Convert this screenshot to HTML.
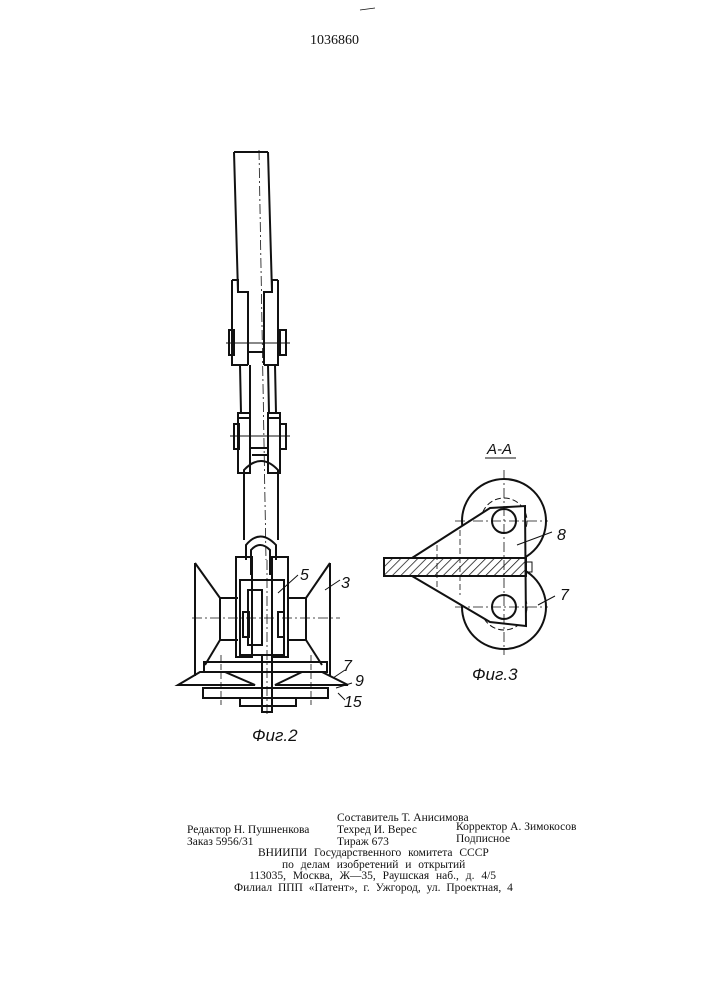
<!DOCTYPE html>
<html><head><meta charset="utf-8"><style>
body{margin:0;background:#fff;}
.t{position:absolute;font-family:"Liberation Serif","Noto Serif CJK SC",serif;font-size:11.5px;color:#111;white-space:nowrap;}
</style></head><body>
<div style="position:relative;width:707px;height:1000px;overflow:hidden">
<svg width="707" height="1000" style="position:absolute;left:0;top:0" fill="none" stroke="#111" stroke-width="2">
<defs><pattern id="h" width="6" height="6" patternUnits="userSpaceOnUse" patternTransform="rotate(45)"><line x1="0" y1="0" x2="0" y2="6" stroke="#111" stroke-width="1.5"/></pattern></defs>
<text x="310" y="44" font-family="Liberation Serif" font-size="14" fill="#111" stroke="none">1036860</text>
<line x1="360" y1="10" x2="375" y2="8" stroke-width="0.8"/>
<path d="M234 152 L238 292 M268 152 L272 292 M234 152 L268 152"/>
<path d="M232 280 L238 280 L238 292 L248 292 L248 365 M232 280 L232 365 L248 365 M278 280 L272 280 L272 292 L264 292 L264 365 M278 280 L278 365 L264 365"/>
<path d="M229 330 h5 v25 h-5z M280 330 h6 v25 h-6z"/>
<line x1="226" y1="343" x2="290" y2="343" stroke-width="1"/>
<path d="M248 352 h16 M240 365 L241 413 M250 365 L250 413 M268 365 L269 413 M275 365 L276 413"/>
<path d="M238 413 h12 v60 h-12z M268 413 h12 v60 h-12z M238 418 h12 M268 418 h12"/>
<path d="M234 424 h5 v25 h-5z M280 424 h6 v25 h-6z"/>
<line x1="230" y1="436" x2="290" y2="436" stroke-width="1"/>
<path d="M250 448 h18 M252 455 h16"/>
<path d="M244 540 L244 470 Q261 452 278 470 L278 540"/>
<line x1="259" y1="150" x2="266" y2="560" stroke-width="0.8" stroke-dasharray="10,3,2,3"/>
<path d="M246 560 L246 545 Q260 528 276 545 L276 560 M251 575 L251 550 Q260 540 270 550 L270 575"/>
<path d="M236 557 h16 v100 h-16z M272 557 h16 v100 h-16z M240 580 h44 v75 h-44z M248 590 h14 v55 h-14z"/>
<path d="M243 612 h6 v25 h-6z M278 612 h6 v25 h-6z"/>
<path d="M195 563 L220 598 L238 598 M195 563 L195 676 M220 598 L220 640 L205 665 M220 640 L238 640"/>
<path d="M330 563 L306 598 L288 598 M330 563 L330 676 M306 598 L306 640 L322 665 M306 640 L288 640"/>
<line x1="192" y1="618" x2="340" y2="618" stroke-width="0.8" stroke-dasharray="10,3,2,3"/>
<path d="M204 662 h123 v10 h-123z"/>
<path d="M178 685 L200 672 L225 672 L255 685 Z M275 685 L302 672 L322 672 L348 685 Z"/>
<path d="M203 688 h125 v10 h-125z M240 698 h56 v8 h-56z M262 655 h10 v57 h-10z"/>
<line x1="221" y1="655" x2="221" y2="705" stroke-width="0.8" stroke-dasharray="6,3"/>
<line x1="311" y1="655" x2="311" y2="705" stroke-width="0.8" stroke-dasharray="6,3"/>
<line x1="267" y1="560" x2="267" y2="715" stroke-width="0.8" stroke-dasharray="10,3,2,3"/>
<path d="M278 593 L298 575 M325 590 L340 580 M333 678 L345 670 M336 688 L352 683 M338 693 L345 700" stroke-width="1"/>
<g font-family="Liberation Sans" font-style="italic" font-size="16" fill="#111" stroke="none">
<text x="300" y="580">5</text><text x="341" y="588">3</text><text x="343" y="671">7</text><text x="355" y="686">9</text><text x="344" y="707">15</text>
<text x="252" y="741" font-size="17">Фиг.2</text>
<text x="487" y="454" font-size="15">А-А</text>
<text x="557" y="540">8</text><text x="560" y="600">7</text>
<text x="472" y="680" font-size="17">Фиг.3</text>
</g>
<line x1="485" y1="458" x2="516" y2="458" stroke-width="1"/>
<circle cx="504" cy="521" r="42"/><circle cx="504" cy="607" r="42"/>
<circle cx="504" cy="521" r="23" stroke-dasharray="6,3" stroke-width="1"/><circle cx="504" cy="607" r="23" stroke-dasharray="6,3" stroke-width="1"/>
<circle cx="504" cy="521" r="12" fill="#fff"/><circle cx="504" cy="607" r="12" fill="#fff"/>
<path d="M412 558 L490 508 L525 506 L526 626 L490 622 L412 576" fill="#fff"/>
<circle cx="504" cy="521" r="12"/><circle cx="504" cy="607" r="12"/>
<rect x="384" y="558" width="142" height="18" fill="url(#h)"/>
<rect x="384" y="558" width="142" height="18"/>
<path d="M526 562 h6 v10 h-6" stroke-width="1"/>
<path d="M437 545 v45 M460 530 v65" stroke-width="0.8" stroke-dasharray="6,3"/>
<line x1="504" y1="470" x2="504" y2="655" stroke-width="0.8" stroke-dasharray="10,3,2,3"/>
<line x1="455" y1="521" x2="548" y2="521" stroke-width="0.8" stroke-dasharray="10,3,2,3"/>
<line x1="455" y1="607" x2="548" y2="607" stroke-width="0.8" stroke-dasharray="10,3,2,3"/>
<path d="M517 545 L552 532 M538 605 L555 596" stroke-width="1"/>
</svg>
<div class="t" style="left:337px;top:812px">Составитель Т. Анисимова</div>
<div class="t" style="left:187px;top:824px">Редактор Н. Пушненкова</div>
<div class="t" style="left:337px;top:824px">Техред И. Верес</div>
<div class="t" style="left:456px;top:821px">Корректор А. Зимокосов</div>
<div class="t" style="left:187px;top:836px">Заказ 5956/31</div>
<div class="t" style="left:337px;top:836px">Тираж 673</div>
<div class="t" style="left:456px;top:833px">Подписное</div>
<div class="t" style="left:258px;top:847px;word-spacing:4px">ВНИИПИ Государственного комитета СССР</div>
<div class="t" style="left:282px;top:859px;word-spacing:4px">по делам изобретений и открытий</div>
<div class="t" style="left:249px;top:870px;word-spacing:4px">113035, Москва, Ж—35, Раушская наб., д. 4/5</div>
<div class="t" style="left:234px;top:882px;word-spacing:3px">Филиал ППП «Патент», г. Ужгород, ул. Проектная, 4</div>
</div>
</body></html>
